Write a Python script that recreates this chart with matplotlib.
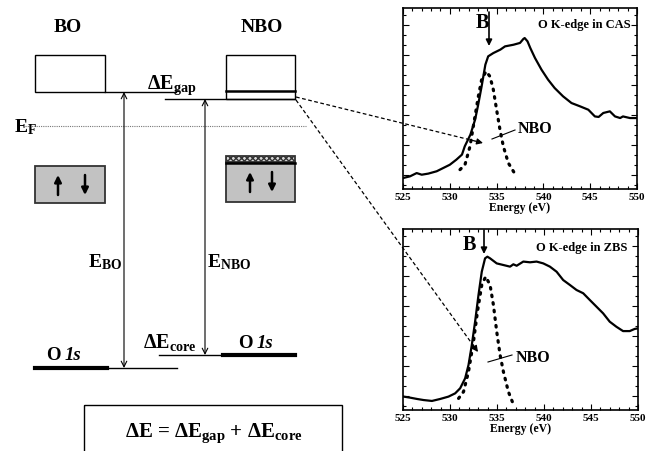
import numpy as np
import matplotlib
matplotlib.use('Agg')
from matplotlib import pyplot as plt
from matplotlib.patches import Rectangle

plt.rcParams['font.family'] = ['Liberation Serif', 'DejaVu Serif']
plt.rcParams['font.weight'] = 'bold'
plt.rcParams['mathtext.fontset'] = 'custom'
plt.rcParams['mathtext.rm'] = 'Liberation Serif:bold'
plt.rcParams['mathtext.it'] = 'Liberation Serif:bold:italic'
plt.rcParams['mathtext.bf'] = 'Liberation Serif:bold'

# O K-edge spectra (energy in eV, intensity in arbitrary units)
cas_e = [525.04, 525.75, 526.46, 527.0, 527.7, 528.6, 529.3, 530.0, 530.7, 531.3,
         531.6, 532.2, 532.7, 533.0, 533.4, 533.8, 534.1, 534.65, 535.4, 535.9,
         536.8, 537.5, 537.86, 538.0, 538.3, 538.6, 539.1, 539.8, 540.5, 541.2,
         542.1, 543.0, 543.9, 544.8, 545.5, 545.9, 546.4, 547.1, 547.65, 548.2,
         548.5, 549.25, 549.96]
cas_i = [0.061, 0.070, 0.088, 0.079, 0.085, 0.098, 0.116, 0.134, 0.162, 0.190,
         0.236, 0.300, 0.383, 0.457, 0.567, 0.687, 0.733, 0.751, 0.770, 0.788,
         0.797, 0.807, 0.829, 0.834, 0.816, 0.779, 0.724, 0.659, 0.604, 0.558,
         0.512, 0.475, 0.457, 0.438, 0.401, 0.398, 0.420, 0.429, 0.401, 0.392,
         0.401, 0.392, 0.392]
cas_nbo_e = [531.09, 531.62, 532.16, 532.69, 533.05, 533.40, 533.87, 534.29,
             534.65, 535.0, 535.36, 535.72, 536.25, 536.86]
cas_nbo_i = [0.107, 0.134, 0.236, 0.401, 0.512, 0.604, 0.650, 0.622,
             0.549, 0.438, 0.328, 0.236, 0.144, 0.092]

zbs_e = [525.07, 525.78, 526.49, 527.19, 528.08, 528.96, 529.84, 530.55, 531.08,
         531.61, 531.97, 532.32, 532.67, 533.03, 533.38, 533.73, 533.98, 534.26,
         534.97, 535.68, 536.39, 536.74, 537.09, 537.80, 538.51, 539.21, 539.92,
         540.63, 541.34, 542.04, 542.75, 543.46, 544.17, 544.87, 545.58, 546.29,
         546.99, 547.70, 548.41, 549.12, 549.65, 550.0]
zbs_i = [0.074, 0.068, 0.061, 0.055, 0.050, 0.061, 0.074, 0.092, 0.120,
         0.175, 0.249, 0.359, 0.488, 0.635, 0.764, 0.838, 0.847, 0.838,
         0.810, 0.801, 0.792, 0.805, 0.797, 0.820, 0.816, 0.820, 0.810,
         0.792, 0.764, 0.718, 0.691, 0.663, 0.645, 0.608, 0.571, 0.534,
         0.488, 0.460, 0.436, 0.436, 0.448, 0.451]
zbs_nbo_e = [530.91, 531.44, 531.97, 532.50, 532.92, 533.38, 533.80, 534.26,
             534.62, 534.97, 535.33, 535.68, 536.21, 536.63]
zbs_nbo_i = [0.064, 0.101, 0.212, 0.378, 0.543, 0.691, 0.737, 0.691,
             0.580, 0.433, 0.304, 0.212, 0.101, 0.046]

x_ticks = [525, 530, 535, 540, 545, 550]

W, H = 652, 451
fig = plt.figure(figsize=(W / 100, H / 100), dpi=100)


def spectrum_axes(rect, e, i, e_nbo, i_nbo):
    ax = fig.add_axes(rect)
    ax.plot(e, i, color='black', lw=1.6)
    ax.plot(e_nbo, i_nbo, color='black', lw=2.3, linestyle=(0, (0.5, 1.9)),
            dash_capstyle='round')
    ax.set_xlim(525, 550)
    ax.set_ylim(0, 1)
    ax.set_xticks(x_ticks)
    ax.set_xticks(np.arange(525, 551, 1), minor=True)
    yt = 0.077 + 0.166 * np.arange(6)
    ax.set_yticks(yt)
    ax.set_yticks(np.arange(0.077 - 0.166 / 3, 1, 0.166 / 3), minor=True)
    ax.set_yticklabels([])
    ax.tick_params(which='both', direction='in', top=True, right=True, width=0.8)
    ax.tick_params(which='major', length=4, labelsize=8, pad=3)
    ax.tick_params(which='minor', length=2)
    for lab in ax.get_xticklabels():
        lab.set_fontweight('bold')
    ax.set_xlabel('Energy (eV)', fontsize=8.5, fontweight='bold', labelpad=0)
    for s in ax.spines.values():
        s.set_linewidth(1.2)
    return ax


ax_top = spectrum_axes([403 / W, 1 - 189 / H, 234 / W, 181 / H],
                       cas_e, cas_i, cas_nbo_e, cas_nbo_i)
ax_bot = spectrum_axes([403 / W, 1 - 410 / H, 235 / W, 181 / H],
                       zbs_e, zbs_i, zbs_nbo_e, zbs_nbo_i)

# overlay in pixel coordinates for the schematic
ov = fig.add_axes([0, 0, 1, 1], zorder=5)
ov.set_xlim(0, W)
ov.set_ylim(H, 0)
ov.axis('off')
ov.patch.set_alpha(0)

gray = '#c2c2c2'

# conduction band boxes
ov.add_patch(Rectangle((35, 55), 70, 37, fill=False, lw=1.0, ec='black'))
ov.add_patch(Rectangle((226, 55), 69, 44, fill=False, lw=1.0, ec='black'))
ov.plot([226, 295], [91, 91], color='black', lw=1.8)
ov.plot([105, 176], [92, 92], color='black', lw=1.0)
ov.plot([165, 295], [99, 99], color='black', lw=1.0)

# Fermi level
ov.plot([25, 306], [126, 126], color='#777777', lw=0.8, linestyle=(0, (1, 1)))

# valence boxes
ov.add_patch(Rectangle((35, 166), 70, 37, fc=gray, ec='#333333', lw=1.3))
ov.add_patch(Rectangle((226, 162), 69, 40, fc=gray, ec='#333333', lw=1.3))
ov.add_patch(Rectangle((226, 156), 69, 6, fc='#d8d8d8', ec='#333333', lw=1.3,
                       hatch='xxxxxx'))
ov.plot([226, 295], [162.5, 162.5], color='black', lw=1.8)
for x0, (yb, ye) in [(58, (195, 175)), (85, (175, 195)),
                     (250, (192, 172)), (272, (172, 192))]:
    ov.annotate('', xy=(x0, ye), xytext=(x0, yb),
                arrowprops=dict(arrowstyle='-|>', color='black', lw=1.8,
                                mutation_scale=10, shrinkA=0, shrinkB=0))

# core levels
ov.plot([35, 107], [368, 368], color='black', lw=3)
ov.plot([107, 177], [368, 368], color='black', lw=1.0)
ov.plot([159, 223], [355, 355], color='black', lw=1.0)
ov.plot([223, 295], [355, 355], color='black', lw=3)

# transition arrows
for x0, ytop, ybot in [(124, 92, 368), (205, 99, 355)]:
    ov.annotate('', xy=(x0, ytop), xytext=(x0, ybot),
                arrowprops=dict(arrowstyle='<->', color='black', lw=0.8,
                                mutation_scale=10, shrinkA=0, shrinkB=0))

# labels
ov.text(68, 28, 'BO', ha='center', va='center', fontsize=14, fontweight='bold')
ov.text(262, 27, 'NBO', ha='center', va='center', fontsize=14, fontweight='bold')
ov.text(147, 89, r'ΔE$_{\rm gap}$', ha='left', va='baseline', fontsize=14.5)
ov.text(14, 132, r'E$_{\rm F}$', ha='left', va='baseline', fontsize=14)
ov.text(88, 267, r'E$_{\rm BO}$', ha='left', va='baseline', fontsize=14)
ov.text(207, 267, r'E$_{\rm NBO}$', ha='left', va='baseline', fontsize=14)
for ox, oy in [(46, 360), (238, 348)]:
    ov.text(ox, oy, 'O', ha='left', va='baseline', fontsize=13.5)
    ov.text(ox + 19, oy, '1s', ha='left', va='baseline', fontsize=13.5,
            style='italic')
ov.text(143, 348, r'ΔE$_{\rm core}$', ha='left', va='baseline', fontsize=14.5)

# formula box
ov.add_patch(Rectangle((84, 405), 258, 60, fill=False, lw=1.0, ec='black',
                       clip_on=False))
ov.text(214, 437, r'ΔE = ΔE$_{\rm gap}$ + ΔE$_{\rm core}$', ha='center',
        va='baseline', fontsize=15)

# spectrum annotations
for bx, by, ax0, ay0, ay1, title, tx, ty, nx, ny, l0, l1 in [
        (476, 28, 489, 12, 46, 'O K-edge in CAS', 631, 28, 518, 133,
         (492, 139), (515, 130)),
        (463, 250, 484, 230, 254, 'O K-edge in ZBS', 627, 251, 516, 362,
         (488, 362), (512, 355))]:
    ov.text(bx, by, 'B', ha='left', va='baseline', fontsize=14.5)
    ov.annotate('', xy=(ax0, ay1), xytext=(ax0, ay0),
                arrowprops=dict(arrowstyle='-|>', color='black', lw=1.2,
                                mutation_scale=9, shrinkA=0, shrinkB=0))
    ov.text(tx, ty, title, ha='right', va='baseline', fontsize=9)
    ov.text(nx, ny, 'NBO', ha='left', va='baseline', fontsize=11.5)
    ov.plot([l0[0], l1[0]], [l0[1], l1[1]], color='black', lw=0.8)

# dashed connectors
for (x0, y0), (x1, y1) in [((296, 97), (483, 143)), ((296, 100), (478, 352))]:
    dx, dy = x1 - x0, y1 - y0
    n = np.hypot(dx, dy)
    xm, ym = x1 - dx / n * 8, y1 - dy / n * 8
    ov.plot([x0, xm], [y0, ym], color='black', lw=0.9, linestyle=(0, (3, 2)))
    ov.annotate('', xy=(x1, y1), xytext=(xm, ym),
                arrowprops=dict(arrowstyle='-|>', color='black', lw=0.9,
                                mutation_scale=9, shrinkA=0, shrinkB=0))

fig.savefig('out.png', dpi=100)
